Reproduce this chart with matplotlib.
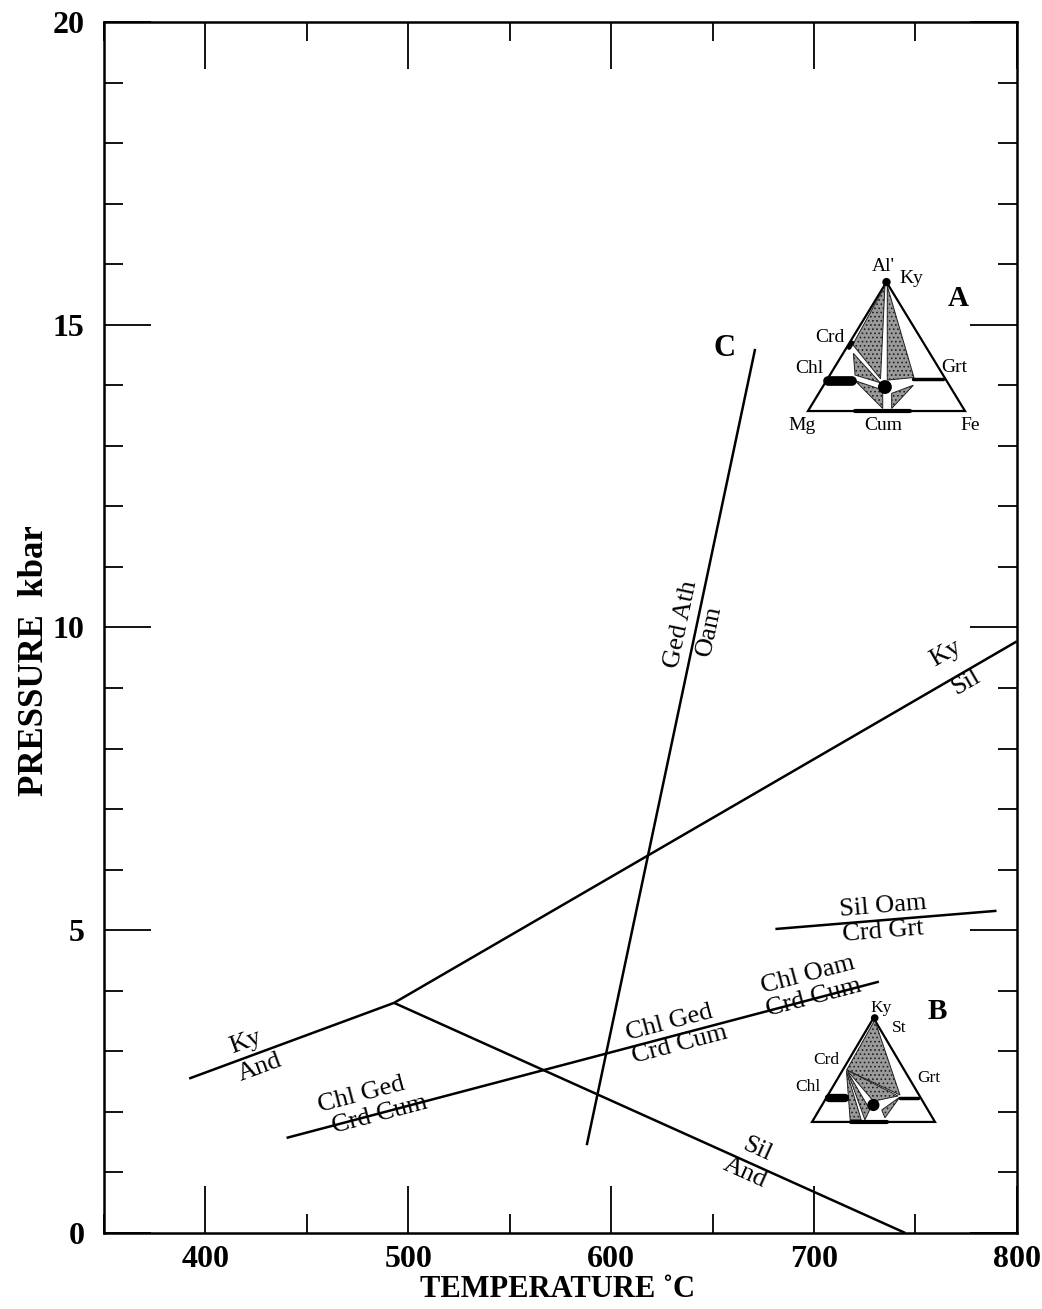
import matplotlib.pyplot as plt
import numpy as np
from matplotlib.ticker import MultipleLocator
from matplotlib.patches import Polygon

plt.rcParams['font.family'] = ['Liberation Serif', 'DejaVu Serif']
plt.rcParams['hatch.linewidth'] = 0.7

# reaction lines: end points (T in degC, P in kbar)
ky_and_T = [392, 493]
ky_and_P = [2.55, 3.80]
ky_sil_T = [493, 800]
ky_sil_P = [3.80, 9.77]
sil_and_T = [493, 745]
sil_and_P = [3.80, 0.0]
ged_oam_T = [588, 671]      # line C
ged_oam_P = [1.45, 14.6]
chl_crd_T = [440, 732]
chl_crd_P = [1.57, 4.15]
sil_oam_T = [681, 790]
sil_oam_P = [5.02, 5.32]

# line labels: text, T, P, which line gives the slope
label_text = ['Ky', 'And', 'Ky', 'Sil', 'Sil', 'And', 'Ged Ath', 'Oam',
              'Chl Ged', 'Crd Cum', 'Chl Ged', 'Crd Cum', 'Chl Oam', 'Crd Cum',
              'Sil Oam', 'Crd Grt']
label_T = [420, 427, 765, 775, 672, 666, 634.5, 648.5, 477, 486, 629, 634, 697, 700, 734, 734]
label_P = [3.16, 2.73, 9.58, 9.10, 1.38, 1.00, 10.05, 9.95, 2.28, 1.95, 3.47, 3.11, 4.26, 3.88, 5.40, 4.98]
label_line = ['ky_and', 'ky_and', 'ky_sil', 'ky_sil', 'sil_and', 'sil_and', 'ged_oam', 'ged_oam',
              'chl_crd', 'chl_crd', 'chl_crd', 'chl_crd', 'chl_crd', 'chl_crd', 'sil_oam', 'sil_oam']

lines = {'ky_and': (ky_and_T, ky_and_P), 'ky_sil': (ky_sil_T, ky_sil_P),
         'sil_and': (sil_and_T, sil_and_P), 'ged_oam': (ged_oam_T, ged_oam_P),
         'chl_crd': (chl_crd_T, chl_crd_P), 'sil_oam': (sil_oam_T, sil_oam_P)}

fig = plt.figure(figsize=(10.42, 13.09), dpi=100)
ax = fig.add_axes([0.0998, 0.0581, 0.876, 0.9251])
ax.set_xlim(350, 800)
ax.set_ylim(0, 20)
ax.xaxis.set_major_locator(MultipleLocator(100))
ax.xaxis.set_minor_locator(MultipleLocator(50))
ax.yaxis.set_major_locator(MultipleLocator(5))
ax.yaxis.set_minor_locator(MultipleLocator(1))
ax.tick_params(which='both', direction='in', top=True, right=True, width=1.3)
ax.tick_params(which='major', length=34)
ax.tick_params(which='minor', length=14)
ax.tick_params(axis='x', pad=9, labelsize=23)
ax.tick_params(axis='y', pad=14, labelsize=23)
for lab in ax.get_xticklabels() + ax.get_yticklabels():
    lab.set_fontweight('bold')
for s in ax.spines.values():
    s.set_linewidth(1.8)

ax.set_xlabel('TEMPERATURE \u02daC', fontsize=22, fontweight='bold')
ax.xaxis.set_label_coords(0.497, -0.035)
ax.set_ylabel('PRESSURE  kbar', fontsize=25, fontweight='bold')
ax.yaxis.set_label_coords(-0.058, 0.473)

for T, P in lines.values():
    ax.plot(T, P, color='black', lw=1.8, solid_capstyle='butt')


def line_angle(key):
    T, P = lines[key]
    p = ax.transData.transform(np.column_stack([T, P]))
    return np.degrees(np.arctan2(p[1, 1] - p[0, 1], p[1, 0] - p[0, 0]))


for txt, T, P, key in zip(label_text, label_T, label_P, label_line):
    ax.text(T, P, txt, fontsize=19, rotation=line_angle(key), rotation_mode='anchor',
            ha='center', va='center')

ax.text(656, 14.6, 'C', fontsize=22, fontweight='bold', ha='center', va='center')

# ---- composition triangles (inset coords: Mg=(0,0), Fe=(1,0), Al'=(0.5,1)) ----
tri_x = [0, 1, 0.5]
tri_y = [0, 0, 1]

# triangle A
a_shade = [
    [(0.49, 0.97), (0.285, 0.515), (0.462, 0.25)],
    [(0.505, 0.97), (0.505, 0.24), (0.675, 0.26)],
    [(0.289, 0.447), (0.30, 0.279), (0.459, 0.22)],
    [(0.30, 0.235), (0.476, 0.163), (0.476, 0.02)],
    [(0.533, 0.137), (0.671, 0.20), (0.533, 0.02)],
]
a_bars_x = [[0.13, 0.28], [0.67, 0.86], [0.30, 0.65], [0.262, 0.282]]
a_bars_y = [[0.233, 0.233], [0.248, 0.248], [0.0, 0.0], [0.49, 0.53]]
a_bars_w = [7, 2.5, 3, 3]
a_dots_x = [0.5, 0.49]
a_dots_y = [1.0, 0.186]
a_dots_s = [25, 80]
a_lab = ["Al'", 'Ky', 'Crd', 'Chl', 'Grt', 'Mg', 'Cum', 'Fe']
a_lab_x = [0.48, 0.66, 0.14, 0.01, 0.93, -0.04, 0.48, 1.03]
a_lab_y = [1.12, 1.03, 0.57, 0.33, 0.34, -0.11, -0.11, -0.11]

# triangle B
b_shade = [
    [(0.51, 0.98), (0.715, 0.26), (0.282, 0.50)],
    [(0.282, 0.50), (0.70, 0.25), (0.50, 0.20)],
    [(0.28, 0.49), (0.31, 0.02), (0.40, 0.02)],
    [(0.29, 0.48), (0.43, 0.02), (0.47, 0.12)],
    [(0.567, 0.115), (0.715, 0.24), (0.593, 0.04)],
]
b_bars_x = [[0.14, 0.265], [0.715, 0.865], [0.32, 0.61]]
b_bars_y = [[0.228, 0.228], [0.23, 0.23], [0.0, 0.0]]
b_bars_w = [6, 2.5, 3]
b_dots_x = [0.51, 0.499]
b_dots_y = [1.0, 0.163]
b_dots_s = [20, 60]
b_lab = ['Ky', 'St', 'Crd', 'Chl', 'Grt']
b_lab_x = [0.56, 0.71, 0.12, -0.03, 0.95]
b_lab_y = [1.10, 0.90, 0.60, 0.34, 0.42]


def draw_triangle(rect, shade, bars_x, bars_y, bars_w, dots_x, dots_y, dots_s,
                  lab, lab_x, lab_y, lab_size, letter, letter_xy):
    ia = fig.add_axes(rect)
    ia.set_xlim(0, 1)
    ia.set_ylim(0, 1)
    ia.axis('off')
    ia.add_patch(Polygon(np.column_stack([tri_x, tri_y]), closed=True, fill=False,
                         edgecolor='black', lw=1.6, clip_on=False))
    for poly in shade:
        ia.add_patch(Polygon(poly, closed=True, facecolor='#9a9a9a', hatch='....',
                             edgecolor='#202020', lw=0.7, clip_on=False))
    for bx, by, bw in zip(bars_x, bars_y, bars_w):
        ia.plot(bx, by, color='black', lw=bw, solid_capstyle='round', clip_on=False)
    ia.scatter(dots_x, dots_y, s=dots_s, color='black', zorder=5, clip_on=False)
    for t, x, y in zip(lab, lab_x, lab_y):
        ia.text(x, y, t, fontsize=lab_size, ha='center', va='center', clip_on=False)
    ia.text(letter_xy[0], letter_xy[1], letter, fontsize=21, fontweight='bold',
            ha='center', va='center')


draw_triangle([0.7754, 0.686, 0.1507, 0.0985], a_shade, a_bars_x, a_bars_y, a_bars_w,
              a_dots_x, a_dots_y, a_dots_s, a_lab, a_lab_x, a_lab_y, 14, 'A', (0.955, 0.876))
draw_triangle([0.7793, 0.1429, 0.118, 0.0794], b_shade, b_bars_x, b_bars_y, b_bars_w,
              b_dots_x, b_dots_y, b_dots_s, b_lab, b_lab_x, b_lab_y, 12.5, 'B', (1.02, 1.06))

fig.savefig('out.png', dpi=100)
